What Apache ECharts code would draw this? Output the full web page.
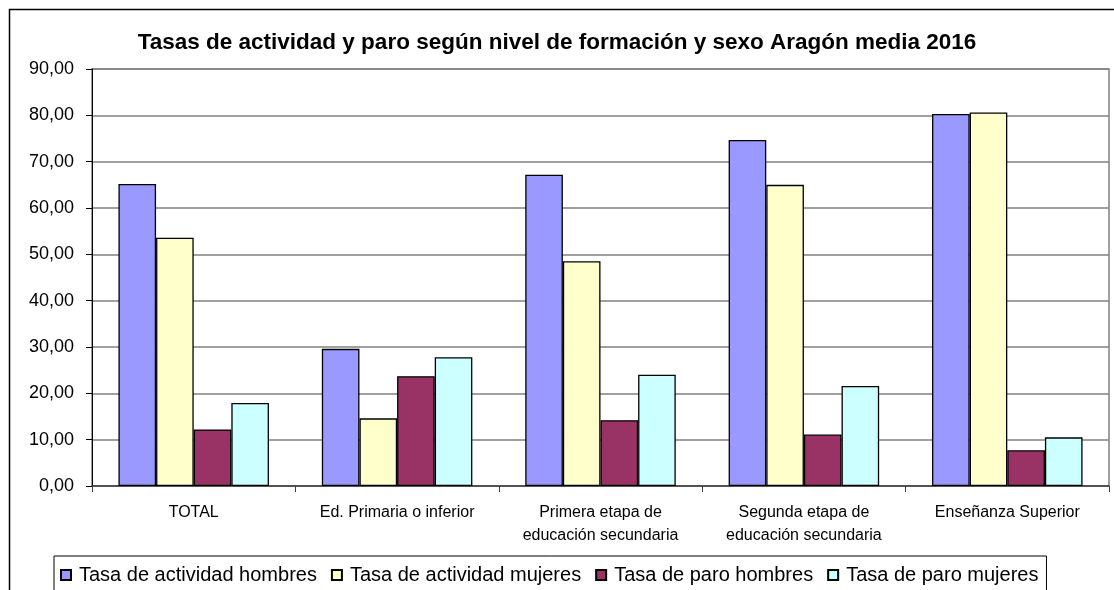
<!DOCTYPE html>
<html>
<head>
<meta charset="utf-8">
<script src="https://cdn.jsdelivr.net/npm/echarts@6/dist/echarts.min.js"></script>
<style>
html,body{margin:0;padding:0;background:#fff;}
#chart{width:1114px;height:590px;}
</style>
</head>
<body>
<div id="chart"></div>
<script>
const categories = ['TOTAL', 'Ed. Primaria o inferior', 'Primera etapa de\neducación secundaria', 'Segunda etapa de\neducación secundaria', 'Enseñanza Superior'];
const seriesNames = ['Tasa de actividad hombres', 'Tasa de actividad mujeres', 'Tasa de paro hombres', 'Tasa de paro mujeres'];
const actividadHombres = [65.2, 29.6, 67.2, 74.7, 80.3];
const actividadMujeres = [53.6, 14.6, 48.5, 65.0, 80.6];
const paroHombres = [12.2, 23.7, 14.2, 11.1, 7.7];
const paroMujeres = [17.9, 27.8, 24.0, 21.6, 10.5];
const seriesColors = ['#9999FF', '#FFFFCC', '#993366', '#CCFFFF'];
const title = 'Tasas de actividad y paro según nivel de formación y sexo Aragón media 2016';

const dataSets = [actividadHombres, actividadMujeres, paroHombres, paroMujeres];
const chart = echarts.init(document.getElementById('chart'));
const font = 'Arial, "Liberation Sans", sans-serif';
chart.setOption({
  animation: false,
  textStyle: {fontFamily: font},
  title: {
    text: title, left: 'center', top: 26,
    textStyle: {fontFamily: font, fontSize: 22.5, fontWeight: 'bold', color: '#000'}
  },
  graphic: [{
    type: 'rect', left: 7, top: 7, z: -1,
    shape: {width: 1130, height: 620},
    style: {fill: 'none', stroke: '#000', lineWidth: 1.5}
  }],
  legend: {
    left: 54, top: 556,
    itemWidth: 10, itemHeight: 10, itemGap: 14,
    padding: [9, 8, 14, 6],
    borderColor: '#000', borderWidth: 1,
    icon: 'rect',
    textStyle: {fontFamily: font, fontSize: 20, color: '#000', padding: [0, 0, 0, 3]},
    data: seriesNames
  },
  grid: {left: 92, right: 5, top: 69, bottom: 104, show: true, borderColor: '#808080', borderWidth: 1.5},
  xAxis: {
    type: 'category', data: categories,
    axisLine: {lineStyle: {color: '#404040', width: 1.5}},
    axisTick: {show: true, length: 6, lineStyle: {color: '#404040'}},
    axisLabel: {fontFamily: font, fontSize: 16, color: '#000', margin: 15, lineHeight: 23, interval: 0}
  },
  yAxis: {
    type: 'value', min: 0, max: 90, interval: 10,
    axisLine: {show: true, lineStyle: {color: '#000', width: 1}},
    axisTick: {show: true, length: 6, lineStyle: {color: '#000'}},
    splitLine: {lineStyle: {color: '#808080', width: 1.5}},
    axisLabel: {fontFamily: font, fontSize: 18, color: '#000', margin: 18,
      formatter: v => v.toFixed(2).replace('.', ',')}
  },
  series: seriesNames.map((n, i) => ({
    name: n, type: 'bar', data: dataSets[i],
    barGap: '0%', barCategoryGap: '26%',
    itemStyle: {color: seriesColors[i], borderColor: '#000', borderWidth: 1.3}
  }))
});
</script>
</body>
</html>
